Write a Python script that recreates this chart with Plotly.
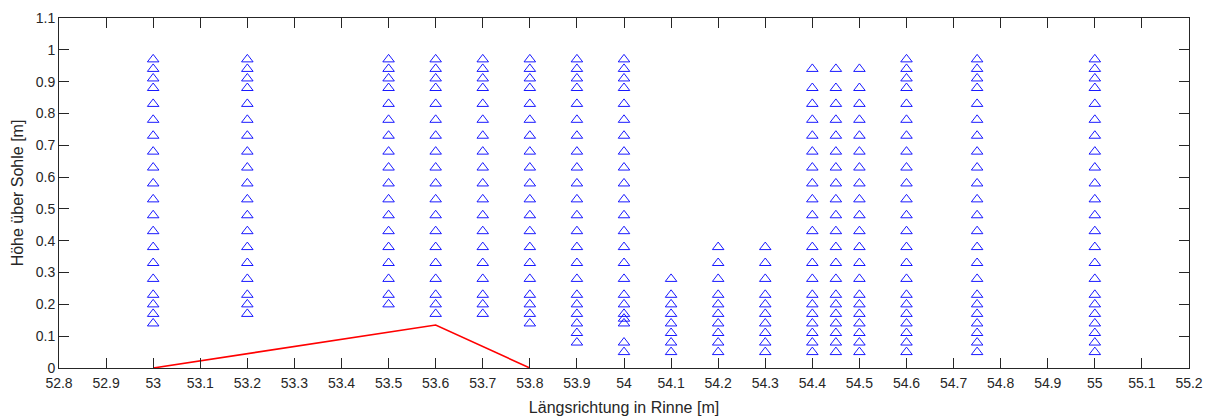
import plotly.graph_objects as go

# Measurement verticals: x position (m) and heights above bed (m)
h_53_00 = [0.14, 0.17, 0.20, 0.23, 0.28, 0.33, 0.38, 0.43, 0.48, 0.53, 0.58, 0.63, 0.68, 0.73, 0.78, 0.83, 0.88, 0.91, 0.94, 0.97]
h_53_20 = [0.17, 0.20, 0.23, 0.28, 0.33, 0.38, 0.43, 0.48, 0.53, 0.58, 0.63, 0.68, 0.73, 0.78, 0.83, 0.88, 0.91, 0.94, 0.97]
h_53_50 = [0.20, 0.23, 0.28, 0.33, 0.38, 0.43, 0.48, 0.53, 0.58, 0.63, 0.68, 0.73, 0.78, 0.83, 0.88, 0.91, 0.94, 0.97]
h_53_60 = [0.17, 0.20, 0.23, 0.28, 0.33, 0.38, 0.43, 0.48, 0.53, 0.58, 0.63, 0.68, 0.73, 0.78, 0.83, 0.88, 0.91, 0.94, 0.97]
h_53_70 = [0.17, 0.20, 0.23, 0.28, 0.33, 0.38, 0.43, 0.48, 0.53, 0.58, 0.63, 0.68, 0.73, 0.78, 0.83, 0.88, 0.91, 0.94, 0.97]
h_53_80 = [0.14, 0.17, 0.20, 0.23, 0.28, 0.33, 0.38, 0.43, 0.48, 0.53, 0.58, 0.63, 0.68, 0.73, 0.78, 0.83, 0.88, 0.91, 0.94, 0.97]
h_53_90 = [0.08, 0.11, 0.14, 0.17, 0.20, 0.23, 0.28, 0.33, 0.38, 0.43, 0.48, 0.53, 0.58, 0.63, 0.68, 0.73, 0.78, 0.83, 0.88, 0.91, 0.94, 0.97]
h_54_00 = [0.05, 0.08, 0.14, 0.155, 0.17, 0.20, 0.23, 0.28, 0.33, 0.38, 0.43, 0.48, 0.53, 0.58, 0.63, 0.68, 0.73, 0.78, 0.83, 0.88, 0.91, 0.94, 0.97]
h_54_10 = [0.05, 0.08, 0.11, 0.14, 0.17, 0.20, 0.23, 0.28]
h_54_20 = [0.05, 0.08, 0.11, 0.14, 0.17, 0.20, 0.23, 0.28, 0.33, 0.38]
h_54_30 = [0.05, 0.08, 0.11, 0.14, 0.17, 0.20, 0.23, 0.28, 0.33, 0.38]
h_54_40 = [0.05, 0.08, 0.11, 0.14, 0.17, 0.20, 0.23, 0.28, 0.33, 0.38, 0.43, 0.48, 0.53, 0.58, 0.63, 0.68, 0.73, 0.78, 0.83, 0.88, 0.94]
h_54_45 = [0.05, 0.08, 0.11, 0.14, 0.17, 0.20, 0.23, 0.28, 0.33, 0.38, 0.43, 0.48, 0.53, 0.58, 0.63, 0.68, 0.73, 0.78, 0.83, 0.88, 0.94]
h_54_50 = [0.05, 0.08, 0.11, 0.14, 0.17, 0.20, 0.23, 0.28, 0.33, 0.38, 0.43, 0.48, 0.53, 0.58, 0.63, 0.68, 0.73, 0.78, 0.83, 0.88, 0.94]
h_54_60 = [0.05, 0.08, 0.11, 0.14, 0.17, 0.20, 0.23, 0.28, 0.33, 0.38, 0.43, 0.48, 0.53, 0.58, 0.63, 0.68, 0.73, 0.78, 0.83, 0.88, 0.91, 0.94, 0.97]
h_54_75 = [0.05, 0.08, 0.11, 0.14, 0.17, 0.20, 0.23, 0.28, 0.33, 0.38, 0.43, 0.48, 0.53, 0.58, 0.63, 0.68, 0.73, 0.78, 0.83, 0.88, 0.91, 0.94, 0.97]
h_55_00 = [0.05, 0.08, 0.11, 0.14, 0.17, 0.20, 0.23, 0.28, 0.33, 0.38, 0.43, 0.48, 0.53, 0.58, 0.63, 0.68, 0.73, 0.78, 0.83, 0.88, 0.91, 0.94, 0.97]

vertical_x = [53.0, 53.2, 53.5, 53.6, 53.7, 53.8, 53.9, 54.0, 54.1, 54.2, 54.3, 54.4, 54.45, 54.5, 54.6, 54.75, 55.0]
vertical_h = [h_53_00, h_53_20, h_53_50, h_53_60, h_53_70, h_53_80, h_53_90, h_54_00, h_54_10,
              h_54_20, h_54_30, h_54_40, h_54_45, h_54_50, h_54_60, h_54_75, h_55_00]

# Bed form (red line)
bed_x = [53.0, 53.6, 53.8]
bed_y = [0.0, 0.135, 0.0]

x_tickvals = [52.8, 52.9, 53.0, 53.1, 53.2, 53.3, 53.4, 53.5, 53.6, 53.7, 53.8, 53.9, 54.0,
              54.1, 54.2, 54.3, 54.4, 54.5, 54.6, 54.7, 54.8, 54.9, 55.0, 55.1, 55.2]
x_ticktext = ["52.8", "52.9", "53", "53.1", "53.2", "53.3", "53.4", "53.5", "53.6", "53.7", "53.8", "53.9", "54",
              "54.1", "54.2", "54.3", "54.4", "54.5", "54.6", "54.7", "54.8", "54.9", "55", "55.1", "55.2"]
y_tickvals = [0, 0.1, 0.2, 0.3, 0.4, 0.5, 0.6, 0.7, 0.8, 0.9, 1.0, 1.1]
y_ticktext = ["0", "0.1", "0.2", "0.3", "0.4", "0.5", "0.6", "0.7", "0.8", "0.9", "1", "1.1"]

px, py = [], []
for xv, hs in zip(vertical_x, vertical_h):
    for h in hs:
        px.append(xv)
        py.append(h)

fig = go.Figure()
fig.add_trace(go.Scatter(
    x=px, y=py, mode="markers",
    marker=dict(symbol="triangle-up-open", size=10, color="#0000ff", line=dict(width=0.9, color="#0000ff")),
    showlegend=False, hoverinfo="x+y"))
fig.add_trace(go.Scatter(
    x=bed_x, y=bed_y, mode="lines",
    line=dict(color="#ff0000", width=1.6),
    showlegend=False, cliponaxis=False))

FONT = "Liberation Sans, Arial, sans-serif"
axis_common = dict(
    showgrid=False, zeroline=False, showline=True, linecolor="#262626", linewidth=1,
    mirror="ticks", ticks="inside", ticklen=10, tickwidth=1, tickcolor="#262626",
    automargin=False,
    tickfont=dict(family=FONT, size=14, color="#262626"),
)

fig.update_layout(
    width=1214, height=417,
    margin=dict(l=59, r=25, t=18, b=49),
    paper_bgcolor="white", plot_bgcolor="white",
    font=dict(family=FONT, size=14, color="#262626"),
    xaxis=dict(range=[52.8, 55.2], tickvals=x_tickvals, ticktext=x_ticktext,
               ticklabelstandoff=2,
               title=dict(text="Längsrichtung in Rinne [m]", standoff=12,
                          font=dict(family=FONT, size=16, color="#262626")),
               **axis_common),
    yaxis=dict(range=[0, 1.1], tickvals=y_tickvals, ticktext=y_ticktext,
               title=dict(text="Höhe über Sohle [m]", standoff=8,
                          font=dict(family=FONT, size=16, color="#262626")),
               **axis_common),
)

# Remove the default 8px page margin so the 1214x417 figure fills the window exactly.
fig.write_html("out.html", config={"displayModeBar": False},
               post_script="document.body.style.margin='0';document.body.style.overflow='hidden';")
